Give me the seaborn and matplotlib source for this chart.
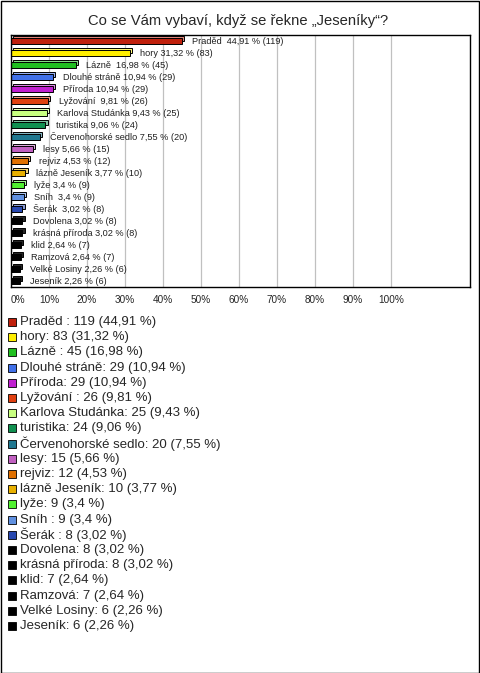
import pandas as pd
import matplotlib.pyplot as plt
import seaborn as sns
from matplotlib.colors import to_rgb
from matplotlib.patches import Rectangle
from matplotlib.transforms import ScaledTranslation

nazvy = ["Praděd ", "hory", "Lázně ", "Dlouhé stráně", "Příroda", "Lyžování ",
         "Karlova Studánka", "turistika", "Červenohorské sedlo", "lesy", "rejviz",
         "lázně Jeseník", "lyže", "Sníh ", "Šerák ", "Dovolena", "krásná příroda",
         "klid", "Ramzová", "Velké Losiny", "Jeseník"]
pocty = [119, 83, 45, 29, 29, 26, 25, 24, 20, 15, 12, 10, 9, 9, 8, 8, 8, 7, 7, 6, 6]
procenta = [44.91, 31.32, 16.98, 10.94, 10.94, 9.81, 9.43, 9.06, 7.55, 5.66, 4.53,
            3.77, 3.4, 3.4, 3.02, 3.02, 3.02, 2.64, 2.64, 2.26, 2.26]
barvy = ["#c0200c", "#ffee00", "#20c020", "#4070e8", "#c020d0", "#e04010",
         "#c8ff80", "#109050", "#207890", "#c060c0", "#e07000", "#e8b000",
         "#50f030", "#6090e0", "#2848b0", "#000000", "#000000", "#000000",
         "#000000", "#000000", "#000000"]
titulek = "Co se Vám vybaví, když se řekne „Jeseníky“?"

sns.set_style("white")
plt.rcParams['font.family'] = ['Liberation Sans', 'DejaVu Sans']

df = pd.DataFrame({"nazev": nazvy, "procenta": procenta})


def svetlejsi(c, k=0.45):
    r, g, b = to_rgb(c)
    if (r, g, b) == (0, 0, 0):
        return (0.15, 0.15, 0.15)
    return (r + (1 - r) * k, g + (1 - g) * k, b + (1 - b) * k)


fig = plt.figure(figsize=(4.8, 6.73), dpi=100)
ax = fig.add_axes([11 / 480, 1 - 287 / 673, 459 / 480, 252 / 673])

# zadni vrstva (3D efekt)
sns.barplot(data=df, x="procenta", y="nazev", hue="nazev",
            palette=[svetlejsi(c) for c in barvy], legend=False, width=0.45,
            edgecolor="black", linewidth=0.7, saturation=1, ax=ax)
posun = ScaledTranslation(1.6 / 72, 1.6 / 72, fig.dpi_scale_trans)
for p in ax.patches:
    p.set_transform(ax.transData + posun)

# predni vrstva
sns.barplot(data=df, x="procenta", y="nazev", hue="nazev",
            palette=barvy, legend=False, width=0.45,
            edgecolor="black", linewidth=0.7, saturation=1, ax=ax)

for i, (n, p, c) in enumerate(zip(nazvy, procenta, pocty)):
    txt = f"{n} {p:g} % ({c})".replace(".", ",")
    ax.annotate(txt, (p, i), xytext=(7.5, 0), textcoords="offset points",
                va="center", ha="left", fontsize=6.6, color="#202020")

ax.set_xlim(0, 120.8)
ax.set_ylim(len(nazvy) - 0.5, -0.5)
ax.set_xticks(range(0, 101, 10))
ax.set_xticklabels([f"{v}%" for v in range(0, 101, 10)], fontsize=7.2)
ax.get_xticklabels()[0].set_horizontalalignment("left")
ax.tick_params(axis="x", length=0, pad=6)
ax.set_yticks([])
ax.set_xlabel("")
ax.set_ylabel("")
ax.grid(axis="x", color="#c0c0c0", linewidth=0.9)
ax.set_axisbelow(True)
for s in ax.spines.values():
    s.set_color("black")
    s.set_linewidth(1)

fig.text(0.495, 1 - 20.5 / 673, titulek, ha="center", va="center", fontsize=10.6)

# legenda
for i, (n, c, p, b) in enumerate(zip(nazvy, pocty, procenta, barvy)):
    y = 1 - (322 + i * 15.2) / 673
    fig.add_artist(Rectangle((8 / 480, y - 4 / 673), 8 / 480, 8 / 673,
                             facecolor=b, edgecolor="black", linewidth=0.6,
                             transform=fig.transFigure))
    fig.text(20 / 480, y, f"{n}: {c} ({p:g} %)".replace(".", ","),
             ha="left", va="center", fontsize=9.5)

fig.add_artist(Rectangle((0.5 / 480, 0.5 / 673), 478.5 / 480, 671.5 / 673,
                         facecolor="none", edgecolor="black", linewidth=1,
                         transform=fig.transFigure))

fig.savefig("out.png", dpi=100)
